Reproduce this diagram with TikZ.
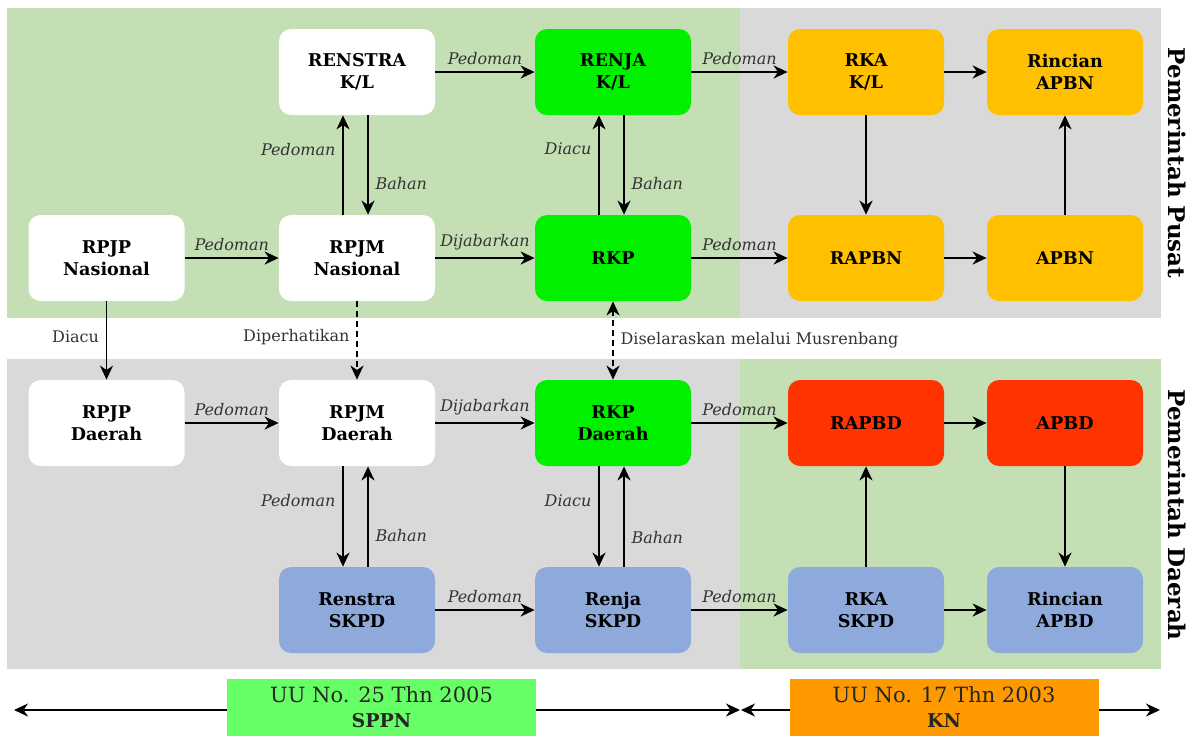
\documentclass[tikz,border=0pt]{standalone}
\usepackage{fontspec}
\setmainfont{DejaVu Serif}
\usepackage{tikz}
\usetikzlibrary{arrows.meta}
\definecolor{latarhijau}{HTML}{C5DFB4}
\definecolor{latarabu}{HTML}{D9D9D9}
\definecolor{hijau}{HTML}{00F000}
\definecolor{kuning}{HTML}{FFC000}
\definecolor{merah}{HTML}{FF3300}
\definecolor{biru}{HTML}{8EA9DB}
\definecolor{hijaumuda}{HTML}{66FF66}
\definecolor{oranye}{HTML}{FF9900}
\definecolor{teks}{HTML}{333333}
\tikzset{>={Stealth[length=7pt, width=6.5pt, inset=2.2pt]}, font=\fontsize{8}{9.6}\selectfont}
\tikzset{blok/.style={rounded corners=6pt, minimum width=78pt, minimum height=43pt,
    align=center, inner sep=2pt, font=\fontsize{8.8}{11}\selectfont\bfseries}}
\tikzset{lbl/.style={font=\fontsize{8}{9.6}\selectfont\itshape, text=teks}}
\tikzset{lbltegak/.style={font=\fontsize{8}{9.6}\selectfont, text=teks}}
\tikzset{panah/.style={->, line width=0.9pt}}
\tikzset{hukum/.style={minimum width=154.5pt, minimum height=28.5pt, align=center,
    inner sep=1pt, font=\fontsize{10.5}{12.5}\selectfont, text=black!85}}

\begin{document}
\begin{tikzpicture}[x=0.5pt, y=-0.5pt]
  \useasboundingbox (0,0) rectangle (1190,736);
  % latar belakang
  \fill[latarhijau] (7,8) rectangle (740,318);
  \fill[latarabu] (740,8) rectangle (1161,318);
  \fill[latarabu] (7,359) rectangle (740,669);
  \fill[latarhijau] (740,359) rectangle (1161,669);

  % pemerintah pusat
  \node[blok, fill=white] (renstrakl) at (357,72) {RENSTRA\\K/L};
  \node[blok, fill=hijau] (renjakl) at (613,72) {RENJA\\K/L};
  \node[blok, fill=kuning] (rkakl) at (866,72) {RKA\\K/L};
  \node[blok, fill=kuning] (rincapbn) at (1065,72) {Rincian\\APBN};
  \node[blok, fill=white] (rpjpn) at (106.5,258) {RPJP\\Nasional};
  \node[blok, fill=white] (rpjmn) at (357,258) {RPJM\\Nasional};
  \node[blok, fill=hijau] (rkp) at (613,258) {RKP};
  \node[blok, fill=kuning] (rapbn) at (866,258) {RAPBN};
  \node[blok, fill=kuning] (apbn) at (1065,258) {APBN};

  % pemerintah daerah
  \node[blok, fill=white] (rpjpd) at (106.5,423) {RPJP\\Daerah};
  \node[blok, fill=white] (rpjmd) at (357,423) {RPJM\\Daerah};
  \node[blok, fill=hijau] (rkpd) at (613,423) {RKP\\Daerah};
  \node[blok, fill=merah] (rapbd) at (866,423) {RAPBD};
  \node[blok, fill=merah] (apbd) at (1065,423) {APBD};
  \node[blok, fill=biru] (renstraskpd) at (357,610) {Renstra\\SKPD};
  \node[blok, fill=biru] (renjaskpd) at (613,610) {Renja\\SKPD};
  \node[blok, fill=biru] (rkaskpd) at (866,610) {RKA\\SKPD};
  \node[blok, fill=biru] (rincapbd) at (1065,610) {Rincian\\APBD};

  % panah pusat
  \draw[panah] (renstrakl) -- node[lbl, above] {Pedoman} (renjakl);
  \draw[panah] (renjakl) -- node[lbl, above] {Pedoman} (rkakl);
  \draw[panah] (rkakl) -- (rincapbn);
  \draw[panah] (rpjpn) -- node[lbl, above] {Pedoman} (rpjmn);
  \draw[panah] (rpjmn) -- node[lbl, above] {Dijabarkan} (rkp);
  \draw[panah] (rkp) -- node[lbl, above] {Pedoman} (rapbn);
  \draw[panah] (rapbn) -- (apbn);
  \draw[panah] (rkakl) -- (rapbn);
  \draw[panah] (apbn) -- (rincapbn);
  \draw[panah] ([xshift=-7pt]rpjmn.north) -- node[lbl, left, pos=.66] {Pedoman} ([xshift=-7pt]renstrakl.south);
  \draw[panah] ([xshift=5.5pt]renstrakl.south) -- node[lbl, right, pos=.69] {Bahan} ([xshift=5.5pt]rpjmn.north);
  \draw[panah] ([xshift=-7pt]rkp.north) -- node[lbl, left, pos=.66] {Diacu} ([xshift=-7pt]renjakl.south);
  \draw[panah] ([xshift=5.5pt]renjakl.south) -- node[lbl, right, pos=.69] {Bahan} ([xshift=5.5pt]rkp.north);

  % pusat ke daerah
  \draw[panah] (rpjpn) -- node[lbltegak, left, pos=.45] {Diacu} (rpjpd);
  \draw[panah, dash pattern=on 3pt off 2pt] (rpjmn) -- node[lbltegak, left, fill=white, pos=.45] {Diperhatikan} (rpjmd);
  \draw[panah, <->, dash pattern=on 3pt off 2pt] (rkp) -- node[lbltegak, right, fill=white, pos=.5] {Diselaraskan melalui Musrenbang} (rkpd);

  % panah daerah
  \draw[panah] (rpjpd) -- node[lbl, above] {Pedoman} (rpjmd);
  \draw[panah] (rpjmd) -- node[lbl, above] {Dijabarkan} (rkpd);
  \draw[panah] (rkpd) -- node[lbl, above] {Pedoman} (rapbd);
  \draw[panah] (rapbd) -- (apbd);
  \draw[panah] (apbd) -- (rincapbd);
  \draw[panah] (rkaskpd) -- (rapbd);
  \draw[panah] (rkaskpd) -- (rincapbd);
  \draw[panah] (renstraskpd) -- node[lbl, above] {Pedoman} (renjaskpd);
  \draw[panah] (renjaskpd) -- node[lbl, above] {Pedoman} (rkaskpd);
  \draw[panah] ([xshift=-7pt]rpjmd.south) -- node[lbl, left, pos=.34] {Pedoman} ([xshift=-7pt]renstraskpd.north);
  \draw[panah] ([xshift=5.5pt]renstraskpd.north) -- node[lbl, right, pos=.31] {Bahan} ([xshift=5.5pt]rpjmd.south);
  \draw[panah] ([xshift=-7pt]rkpd.south) -- node[lbl, left, pos=.34] {Diacu} ([xshift=-7pt]renjaskpd.north);
  \draw[panah] ([xshift=5.5pt]renjaskpd.north) -- node[lbl, right, pos=.29] {Bahan} ([xshift=5.5pt]rkpd.south);

  % judul samping
  \node[rotate=-90, font=\fontsize{11.5}{13}\selectfont\bfseries] (pusat) at (1177,163) {Pemerintah Pusat};
  \node[rotate=-90, font=\fontsize{11.5}{13}\selectfont\bfseries] (daerah) at (1177,515) {Pemerintah Daerah};

  % dasar hukum
  \coordinate (sppnkiri) at (14,710);
  \coordinate (sppnkanan) at (740,710);
  \coordinate (knkiri) at (741,710);
  \coordinate (knkanan) at (1160,710);
  \draw[panah, <->] (sppnkiri) -- (sppnkanan);
  \draw[panah, <->] (knkiri) -- (knkanan);
  \node[hukum, fill=hijaumuda] (sppn) at (381.5,707.5) {UU No. 25 Thn 2005\\{\fontsize{9.5}{12.5}\selectfont\bfseries SPPN}};
  \node[hukum, fill=oranye] (kn) at (944,707.5) {UU No. 17 Thn 2003\\{\fontsize{9.5}{12.5}\selectfont\bfseries KN}};
\end{tikzpicture}
\end{document}
